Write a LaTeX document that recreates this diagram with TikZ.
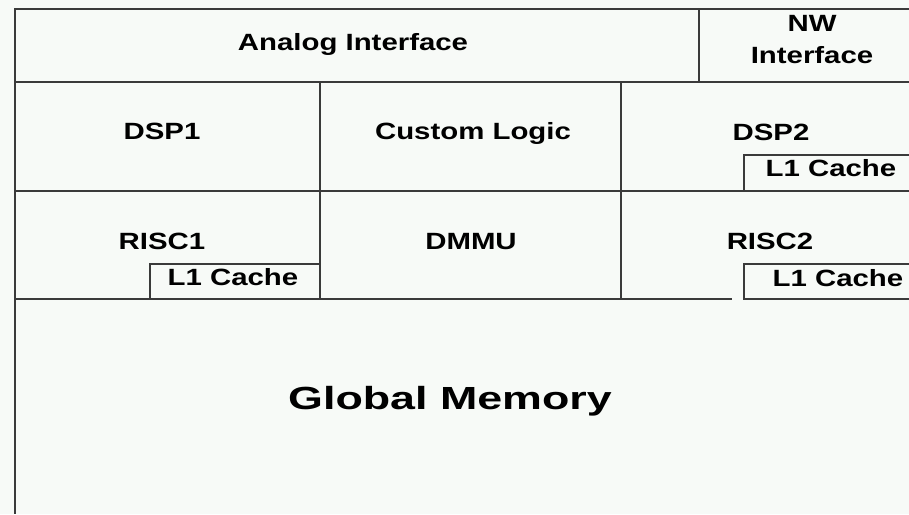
\documentclass[tikz,border=0pt]{standalone}
\usepackage{fontspec}
\newfontfamily\lab[FakeStretch=1.25]{Liberation Sans}
\newfontfamily\biglab[FakeStretch=1.4]{Liberation Sans}
\definecolor{bg}{HTML}{F7FAF7}
\definecolor{rule}{HTML}{3A3A3A}
\begin{document}
\begin{tikzpicture}[x=1pt,y=-1pt,
  wall/.style={draw=rule,line width=1.4pt},
  txt/.style={font=\lab\bfseries\fontsize{23.5}{32}\selectfont,text=black,inner sep=0pt,align=center},
  lbl/.style={txt,text height=16.8pt,text depth=0pt},
  big/.style={font=\biglab\bfseries\fontsize{32}{36}\selectfont,text=black,inner sep=0pt,text height=22.9pt,text depth=0pt}]
  % page
  \fill[bg] (0,0) rectangle (909,514);
  \useasboundingbox (0,0) rectangle (909,514);

  % outer frame and row dividers
  \draw[wall] (909,9) -- (15,9) -- (15,514);
  \draw[wall] (15,82) -- (909,82);
  \draw[wall] (15,191) -- (909,191);
  \draw[wall] (15,299) -- (732,299);
  % column dividers
  \draw[wall] (699,9) -- (699,82);
  \draw[wall] (320,82) -- (320,299);
  \draw[wall] (621,82) -- (621,299);
  % cache boxes
  \draw[wall] (744,191) -- (744,155) -- (909,155);
  \draw[wall] (909,299) -- (744,299) -- (744,264) -- (909,264);
  \draw[wall] (150,299) -- (150,264) -- (320,264);

  % labels
  \node[lbl] (analog) at (353,42) {Analog Interface};
  \node[txt] (nw) at (812,40) {NW\\Interface};
  \node[lbl] (dsp1) at (162,131) {DSP1};
  \node[lbl] (logic) at (473,131) {Custom Logic};
  \node[lbl] (dsp2) at (771,132) {DSP2};
  \node[lbl] (c2) at (831,168) {L1 Cache};
  \node[lbl] (risc1) at (162,241.5) {RISC1};
  \node[lbl] (c1) at (233,277.5) {L1 Cache};
  \node[lbl] (dmmu) at (471,241.5) {DMMU};
  \node[lbl] (risc2) at (770,241.5) {RISC2};
  \node[lbl] (c3) at (838,278) {L1 Cache};
  \node[big] (mem) at (450,398) {Global Memory};
\end{tikzpicture}
\end{document}
